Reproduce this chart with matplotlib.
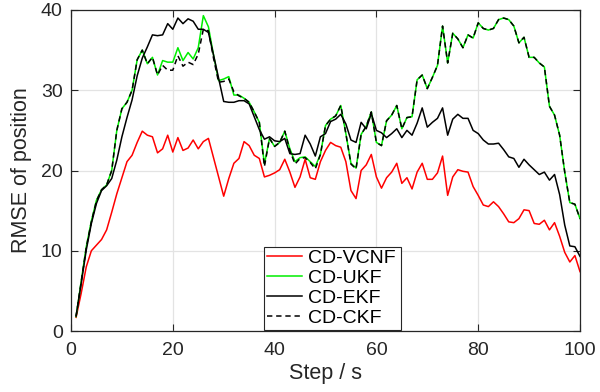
import matplotlib
matplotlib.use("Agg")
import matplotlib.pyplot as plt
import numpy as np

plt.rcParams['font.family'] = ['Liberation Sans', 'DejaVu Sans']

steps = list(range(1, 101))

vcnf = [1.7, 4.7, 8.0, 10.0, 10.7, 11.4, 12.6, 14.8, 17.1, 19.1,
        21.1, 21.9, 23.5, 24.9, 24.4, 24.2, 22.2, 22.7, 24.4, 22.3,
        24.1, 22.5, 22.8, 23.8, 22.7, 23.6, 24.0, 21.6, 19.2, 16.8,
        19.0, 20.9, 21.5, 23.6, 23.1, 21.9, 21.5, 19.2, 19.4, 19.7,
        20.1, 21.4, 19.8, 17.9, 19.2, 21.4, 19.1, 18.9, 21.1, 22.5,
        23.5, 23.1, 22.9, 21.1, 17.5, 16.5, 20.0, 20.7, 22.0, 19.2,
        17.8, 19.1, 19.8, 20.9, 18.4, 19.1, 17.7, 19.8, 20.9, 18.9,
        18.9, 19.7, 21.8, 16.9, 19.2, 20.1, 19.9, 19.8, 18.0, 16.9,
        15.7, 15.5, 16.1, 15.5, 14.6, 13.6, 13.5, 14.0, 15.1, 15.0,
        13.4, 13.3, 13.8, 12.6, 13.5, 11.8, 9.8, 8.6, 9.4, 7.4]

ukf = [1.8, 6.2, 10.5, 13.7, 16.3, 17.6, 18.2, 20.0, 25.0, 27.7,
       28.5, 30.0, 33.8, 35.0, 33.3, 34.1, 31.9, 33.7, 33.5, 33.5,
       35.3, 33.7, 34.7, 33.9, 35.3, 39.3, 37.9, 34.4, 31.2, 31.4,
       31.7, 29.4, 29.4, 29.0, 28.5, 27.3, 26.0, 20.8, 24.0, 23.0,
       23.5, 24.9, 22.7, 21.1, 21.6, 21.7, 21.1, 20.5, 22.0, 25.6,
       26.4, 26.8, 28.1, 24.6, 20.9, 20.3, 24.5, 25.5, 27.3, 23.5,
       23.1, 26.2, 26.9, 28.1, 25.2, 26.6, 26.7, 31.3, 31.9, 30.2,
       31.6, 33.1, 38.0, 33.4, 37.1, 36.4, 35.3, 36.9, 36.5, 38.4,
       37.7, 37.5, 37.7, 38.8, 39.0, 38.8, 38.0, 35.9, 36.6, 34.1,
       34.1, 33.4, 32.9, 28.0, 26.9, 24.4, 19.8, 16.0, 15.8, 14.0]

ekf = [1.9, 5.9, 10.1, 13.4, 15.9, 17.5, 18.1, 19.0, 21.3, 24.2,
       26.6, 28.8, 31.8, 34.0, 35.4, 36.9, 36.8, 36.9, 38.3, 37.6,
       39.0, 38.3, 38.9, 38.6, 37.6, 37.6, 37.2, 34.4, 31.5, 28.6,
       28.5, 28.5, 28.7, 28.7, 28.3, 26.7, 25.1, 23.9, 24.2, 23.7,
       23.6, 24.0, 22.1, 22.0, 22.1, 24.4, 23.3, 21.8, 24.2, 24.6,
       26.1, 26.4, 27.0, 25.8, 23.8, 23.5, 26.0, 25.2, 27.1, 25.0,
       24.7, 24.1, 24.6, 25.2, 24.1, 25.0, 24.4, 25.9, 27.8, 25.4,
       26.0, 26.5, 27.8, 24.4, 26.4, 27.0, 26.5, 26.5, 25.0, 24.6,
       23.8, 23.3, 23.3, 23.4, 22.6, 21.7, 21.5, 20.4, 21.4, 20.7,
       20.1, 19.5, 19.8, 18.8, 19.5, 17.0, 13.2, 10.6, 10.5, 9.3]

ckf = [1.8, 6.1, 10.4, 13.6, 16.2, 17.6, 18.2, 20.0, 25.0, 27.7,
       28.5, 30.0, 33.8, 35.0, 33.3, 34.1, 31.9, 33.1, 32.5, 32.5,
       34.3, 33.0, 33.5, 33.2, 34.5, 37.6, 37.4, 34.0, 31.0, 31.1,
       31.4, 29.8, 29.3, 29.0, 28.5, 27.3, 26.0, 20.5, 24.0, 23.0,
       23.5, 24.9, 22.5, 20.8, 21.5, 21.6, 21.0, 20.2, 22.0, 25.6,
       26.4, 26.8, 28.1, 24.6, 20.8, 20.2, 24.5, 25.5, 27.3, 23.5,
       23.1, 26.2, 26.9, 28.1, 25.2, 26.6, 26.7, 31.3, 31.9, 30.2,
       31.6, 33.1, 38.0, 33.4, 37.1, 36.4, 35.3, 36.9, 36.5, 38.4,
       37.7, 37.5, 37.7, 38.8, 39.0, 38.8, 38.0, 35.9, 36.6, 34.1,
       34.1, 33.4, 32.9, 28.0, 26.9, 24.4, 19.8, 16.0, 15.8, 14.0]

labels = ['CD-VCNF', 'CD-UKF', 'CD-EKF', 'CD-CKF']
xticks = [0, 20, 40, 60, 80, 100]
yticks = [0, 10, 20, 30, 40]

fig = plt.figure(figsize=(6.0, 3.92), dpi=100)
ax = fig.add_axes([71/600, 1-331/392, 509/600, 321/392])

lw = 1.1
ax.plot(steps, vcnf, color='#ff0000', lw=lw, label=labels[0])
ax.plot(steps, ukf, color='#00ee00', lw=lw, label=labels[1])
ax.plot(steps, ekf, color='black', lw=lw, label=labels[2])
ax.plot(steps, ckf, color='black', lw=lw, dashes=(3.5, 2.5), label=labels[3])

ax.set_xlim(0, 100)
ax.set_ylim(0, 40)
ax.set_xticks(xticks)
ax.set_yticks(yticks)
ax.grid(True, color='#e3e3e3', lw=0.9)
ax.set_axisbelow(True)
edge = '#262626'
for s in ax.spines.values():
    s.set_color(edge)
    s.set_linewidth(0.9)
ax.tick_params(direction='in', top=True, right=True, length=5, width=0.8,
               color=edge, labelcolor=edge, labelsize=14)
ax.tick_params(axis='x', pad=8)
ax.tick_params(axis='y', pad=6)
ax.set_xlabel('Step / s', fontsize=15.5, color=edge, labelpad=3)
ax.set_ylabel('RMSE of position', fontsize=15.5, color=edge, labelpad=6)

leg = ax.legend(loc='lower left', bbox_to_anchor=(0.379, 0.003, 0.269, 0.271),
                mode='expand', fontsize=14, frameon=True, fancybox=False,
                edgecolor=edge, framealpha=1, borderpad=0.15, labelspacing=0.12,
                handlelength=1.8, handletextpad=0.3, borderaxespad=0)
leg.get_frame().set_linewidth(0.8)

fig.savefig('out.png', dpi=100)
